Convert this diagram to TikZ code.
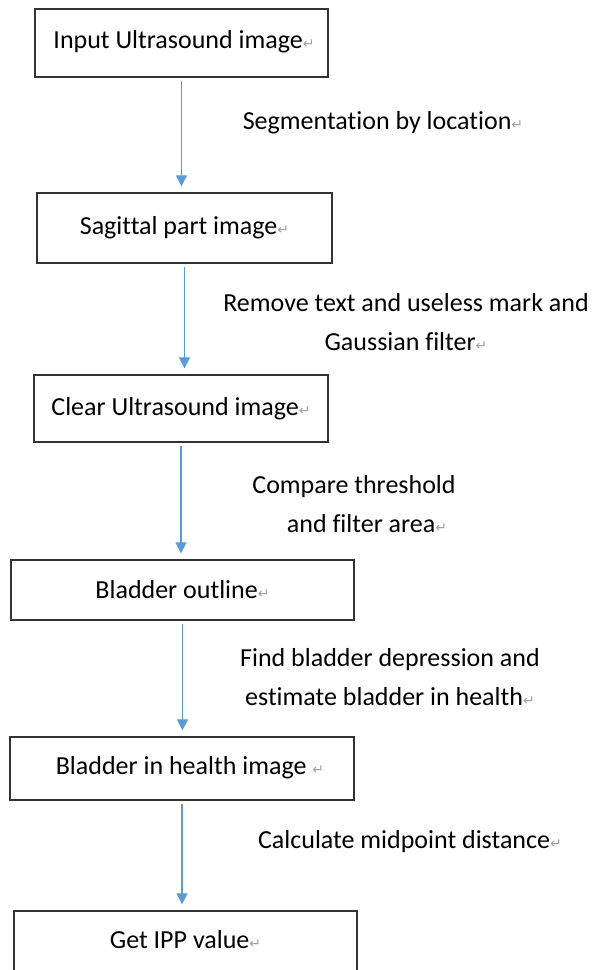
\documentclass[tikz,border=0pt]{standalone}
\usepackage{fontspec}
\setmainfont[Ligatures=CommonOff]{Carlito}
\newfontfamily\retfont{DejaVu Sans}
\usetikzlibrary{arrows.meta}
\definecolor{flowblue}{HTML}{5B9BD5}
\definecolor{retgray}{HTML}{A0A0A0}
\newcommand{\ret}{{\retfont\fontsize{14}{14}\selectfont\color{retgray}↵}}

\tikzset{
  stepbox/.style={draw=black!80, line width=1.3pt, inner sep=0pt},
  steptext/.style={font=\fontsize{26}{39}\selectfont, align=center, inner sep=0pt},
  flow/.style={draw=flowblue, line width=1.1pt, -{Triangle[width=11pt,length=11pt]}, shorten <=3pt, shorten >=6pt}
}

\begin{document}
\begin{tikzpicture}[x=1pt,y=-1pt]
\useasboundingbox (0,0) rectangle (595,970);
% boxes
\node[stepbox, minimum width=293, minimum height=68] (b1) at (181.5,43) {};
\node[steptext] at (184,42) {Input Ultrasound image\ret};
\node[stepbox, minimum width=295, minimum height=70] (b2) at (184.5,228) {};
\node[steptext] at (b2) {Sagittal part image\ret};
\node[stepbox, minimum width=294, minimum height=67] (b3) at (181,408.5) {};
\node[steptext] at (b3) {Clear Ultrasound image\ret};
\node[stepbox, minimum width=343, minimum height=60] (b4) at (182.5,590) {};
\node[steptext] at (b4) {Bladder outline\ret};
\node[stepbox, minimum width=344, minimum height=63] (b5) at (182,768.5) {};
\node[steptext] at (190,768) {Bladder in health image \ret};
\node[stepbox, minimum width=343, minimum height=64] (b6) at (185.5,943) {};
\node[steptext] at (185.5,940) {Get IPP value\ret};
% arrows
\draw[flow] (b1.south) -- (b1.south |- b2.north);
\draw[flow] (b2.south) -- (b2.south |- b3.north);
\draw[flow] (b3.south) -- (b3.south |- b4.north);
\draw[flow] (b4.south) -- (b4.south |- b5.north);
\draw[flow] (b5.south) -- (b5.south |- b6.north);
% labels
\node[steptext] (l1) at (383,123) {Segmentation by location\ret};
\node[steptext] (l2) at (406,322) {Remove text and useless mark and\\Gaussian filter\ret};
\node[steptext] (l3) at (354,504) {Compare threshold\\\quad and filter area\ret};
\node[steptext] (l4) at (390,677.5) {Find bladder depression and\\estimate bladder in health\ret};
\node[steptext] (l5) at (410,842) {Calculate midpoint distance\ret};
\end{tikzpicture}
\end{document}
